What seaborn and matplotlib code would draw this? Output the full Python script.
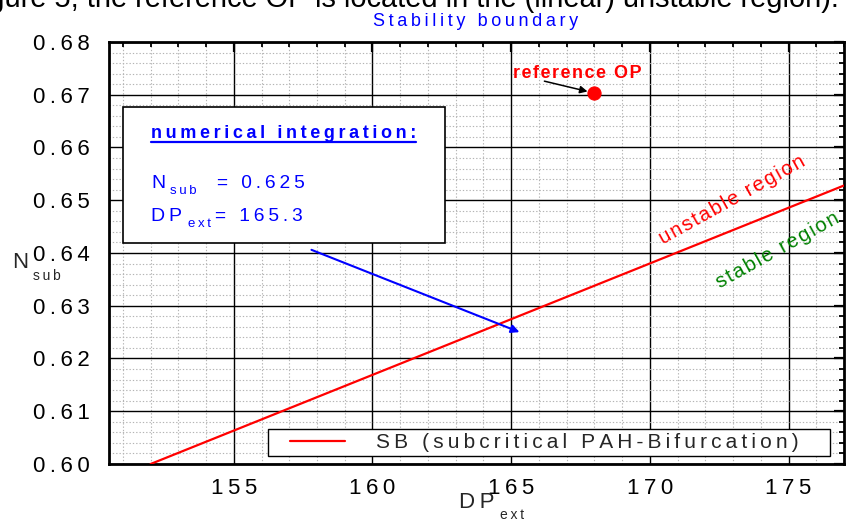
import matplotlib
matplotlib.use("Agg")
import matplotlib.pyplot as plt
import seaborn as sns
import pandas as pd
from matplotlib.ticker import MultipleLocator, FixedLocator, FuncFormatter
from matplotlib.patches import Rectangle
from matplotlib.lines import Line2D

# ---------------- data ----------------
sb_dp = [152.0, 177.0]          # stability boundary (SB) end points
sb_nsub = [0.600, 0.6528]
ref_dp = [168.0]                # reference operating point
ref_nsub = [0.6703]
integ_dp = [157.8, 165.3]       # numerical integration trajectory (arrow)
integ_nsub = [0.6406, 0.6250]
x_major = [155, 160, 165, 170, 175]
y_major = [0.60, 0.61, 0.62, 0.63, 0.64, 0.65, 0.66, 0.67, 0.68]
x_lim = (150.5, 177.0)
y_lim = (0.600, 0.680)
title = "Stability boundary"
legend_label = "SB (subcritical PAH-Bifurcation)"
doc_line = "Figure 5, the reference OP is located in the (linear) unstable region)."
box_title = "numerical integration:"
box_nsub = "= 0.625"
box_dp = "= 165.3"

W, H = 846, 523
sns.set_theme(style="white")
plt.rcParams["font.family"] = ["Liberation Sans", "DejaVu Sans"]

def sp(s, sep="\u2009"):
    return sep.join(s)

def fx(px):
    return px / W

def fy(py):
    return 1 - py / H

AX_L, AX_R, AX_T, AX_B = 109, 844, 42, 464

def ax_x(px):
    return (px - AX_L) / (AX_R - AX_L)

def ax_y(py):
    return (AX_B - py) / (AX_B - AX_T)

fig = plt.figure(figsize=(W / 100, H / 100), dpi=100)
ax = fig.add_axes([fx(AX_L), fy(AX_B), (AX_R - AX_L) / W, (AX_B - AX_T) / H])

df = pd.DataFrame({"DP": sb_dp, "N": sb_nsub})
sns.lineplot(data=df, x="DP", y="N", ax=ax, color="red", lw=1.6,
             label=sp(legend_label), zorder=4)

ax.set_xlim(*x_lim)
ax.set_ylim(*y_lim)
ax.xaxis.set_major_locator(FixedLocator(x_major))
ax.xaxis.set_minor_locator(MultipleLocator(1))
ax.yaxis.set_major_locator(FixedLocator(y_major))
ax.yaxis.set_minor_locator(MultipleLocator(0.002))
ax.xaxis.set_major_formatter(FuncFormatter(lambda v, p: sp(f"{v:.0f}")))
ax.yaxis.set_major_formatter(FuncFormatter(lambda v, p: sp(f"{v:.2f}")))
ax.set_xlabel("")
ax.set_ylabel("")

ax.grid(which="major", color="black", lw=1.0, ls="-", zorder=1)
ax.grid(which="minor", color="#b4b4b4", lw=0.8, ls=(0, (1.2, 1.8)), zorder=1)
ax.set_axisbelow(True)
ax.tick_params(which="both", direction="in", top=True, right=True,
               colors="black", labelcolor="black")
ax.tick_params(which="major", length=7, width=1.6, labelsize=16)
ax.tick_params(axis="x", which="major", pad=10)
ax.tick_params(axis="y", which="major", pad=14)
ax.tick_params(which="minor", length=3.5, width=1.3)
for s in ax.spines.values():
    s.set_visible(True)
    s.set_color("black")
    s.set_linewidth(2)

# legend: white framed box with the entry inside
leg_box = Rectangle((ax_x(268), ax_y(456)), ax_x(830) - ax_x(268),
                    ax_y(429) - ax_y(456), transform=ax.transAxes,
                    facecolor="white", edgecolor="black", lw=1.0, zorder=6)
ax.add_patch(leg_box)
leg = ax.legend(loc="center left", bbox_to_anchor=(ax_x(290), ax_y(442.5)),
                borderaxespad=0, borderpad=0, frameon=False, fontsize=15,
                handlelength=2.62, handletextpad=1.5)
leg.set_zorder(7)

# reference operating point
sns.scatterplot(x=ref_dp, y=ref_nsub, ax=ax, color="red", s=90,
                edgecolor="red", zorder=5, legend=False)
ax.annotate("", xy=(ref_dp[0] - 0.15, ref_nsub[0] + 0.0002),
            xytext=(166.1, 0.6727),
            arrowprops=dict(arrowstyle="-|>", color="black", lw=1.1,
                            mutation_scale=11), zorder=5)
ax.text(165.05, 0.6732, sp("reference OP", "\u200a"), color="red",
        fontweight="bold", fontsize=13, va="baseline", ha="left", zorder=5)

# numerical integration arrow
ax.annotate("", xy=(integ_dp[1], integ_nsub[1]),
            xytext=(integ_dp[0], integ_nsub[0]),
            arrowprops=dict(arrowstyle="-|>", color="blue", lw=1.5,
                            mutation_scale=12, shrinkA=0, shrinkB=0), zorder=5)

# region labels
ax.text(172.95, 0.6500, sp("unstable region", "\u200a"), color="red",
        fontsize=14.7, rotation=29, rotation_mode="anchor", ha="center",
        va="center", zorder=5)
ax.text(174.6, 0.6405, sp("stable region", "\u200a"), color="green",
        fontsize=14.7, rotation=29, rotation_mode="anchor", ha="center",
        va="center", zorder=5)

# info box
box = Rectangle((fx(123), fy(243)), (445 - 123) / W, (243 - 107) / H,
                transform=fig.transFigure, facecolor="white",
                edgecolor="black", lw=1.2, zorder=10)
fig.add_artist(box)
t_box = fig.text(fx(151), fy(138), sp(box_title), color="blue",
                 fontweight="bold", fontsize=13, va="baseline", ha="left",
                 zorder=11)
fig.text(fx(151), fy(188), "N", color="blue", fontsize=14, va="baseline",
         ha="left", zorder=11)
fig.text(fx(170), fy(194), sp("sub"), color="blue", fontsize=9.5,
         va="baseline", ha="left", zorder=11)
fig.text(fx(217), fy(188), sp(box_nsub), color="blue", fontsize=13.8,
         va="baseline", ha="left", zorder=11)
fig.text(fx(151), fy(221), sp("DP"), color="blue", fontsize=14,
         va="baseline", ha="left", zorder=11)
fig.text(fx(188), fy(227), sp("ext"), color="blue", fontsize=9.5,
         va="baseline", ha="left", zorder=11)
fig.text(fx(215), fy(221), sp(box_dp), color="blue", fontsize=13.8,
         va="baseline", ha="left", zorder=11)

# axis labels with subscripts
fig.text(fx(20), fy(263), "N", fontsize=16, ha="center", va="center")
fig.text(fx(33), fy(276), sp("sub"), fontsize=10, ha="left", va="center")
fig.text(fx(477), fy(503), sp("DP"), fontsize=16, ha="center", va="center")
fig.text(fx(500), fy(515), sp("ext"), fontsize=10, ha="left", va="center")

# title
fig.text(fx(476), fy(21), sp(title), color="blue", fontsize=13,
         ha="center", va="center")

# cut-off document line at the very top
fig.canvas.draw()
r = fig.canvas.get_renderer()
probe = fig.text(0, 0, doc_line[doc_line.index("ure"):], fontsize=10)
wid = probe.get_window_extent(r).width
probe.remove()
doc_fs = 10 * 838 / wid
fig.text(fx(839), fy(7), doc_line, fontsize=doc_fs, ha="right",
         va="baseline", color="black")

# underline the box title
fig.canvas.draw()
bb = t_box.get_window_extent(r)
fig.add_artist(Line2D([bb.x0 / W, bb.x1 / W], [fy(142), fy(142)],
                      transform=fig.transFigure, color="blue", lw=1.6,
                      zorder=11))

fig.savefig("out.png", dpi=100)
